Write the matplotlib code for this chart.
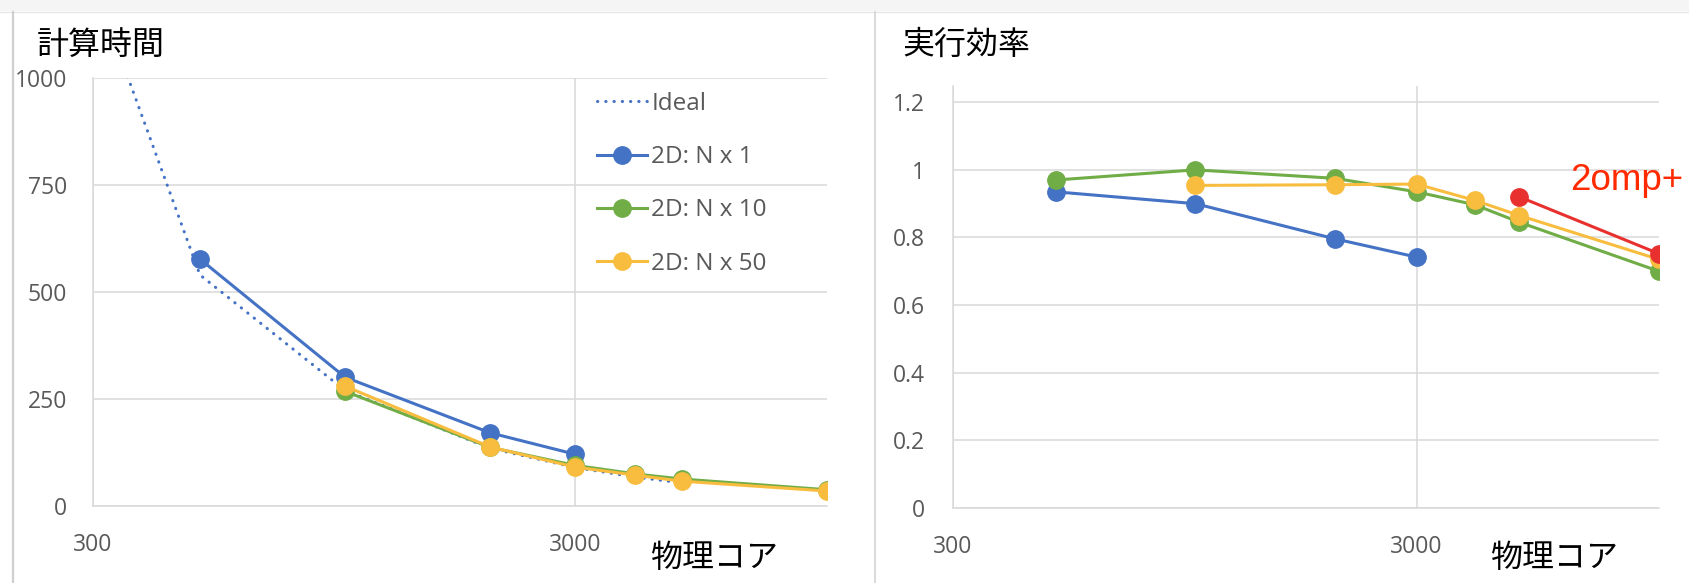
import matplotlib
matplotlib.use("Agg")
import matplotlib.pyplot as plt
from matplotlib.lines import Line2D
from matplotlib.patches import Rectangle
from matplotlib.ticker import NullLocator, FixedLocator, FuncFormatter
from matplotlib.transforms import Bbox

plt.rcParams["font.family"] = ["Open Sans", "Noto Sans CJK JP", "DejaVu Sans"]

# ---- data -------------------------------------------------------------
ideal_cores = [100, 500, 1000, 2000, 3000, 4000, 5000]
ideal_time = [2700, 540, 270, 135, 90, 67.5, 54]

n1_cores = [500, 1000, 2000, 3000]
n1_time = [577, 301, 171, 121]

n10_cores = [1000, 2000, 3000, 4000, 5000, 10000]
n10_time = [268, 137, 95, 75, 63, 38]

n50_cores = [1000, 2000, 3000, 4000, 5000, 10000]
n50_time = [280, 138, 91, 72, 58, 35]

eff_n1_cores = [500, 1000, 2000, 3000]
eff_n1 = [0.935, 0.90, 0.796, 0.742]

eff_n10_cores = [500, 1000, 2000, 3000, 4000, 5000, 10000]
eff_n10 = [0.97, 1.0, 0.975, 0.935, 0.897, 0.845, 0.70]

eff_n50_cores = [1000, 2000, 3000, 4000, 5000, 10000]
eff_n50 = [0.954, 0.956, 0.958, 0.91, 0.865, 0.735]

eff_omp_cores = [5000, 10000]
eff_omp = [0.92, 0.752]

time_yticks = [0, 250, 500, 750, 1000]
eff_yticks = [0, 0.2, 0.4, 0.6, 0.8, 1.0, 1.2]
x_ticks = [300, 3000]

labels = ["Ideal", "2D: N x 1", "2D: N x 10", "2D: N x 50"]

# ---- style ------------------------------------------------------------
BLUE = "#4472C4"
GREEN = "#70AD47"
GOLD = "#F8BD3F"
RED = "#E8312F"
GRID = "#d9d9d9"
TICK = "#595959"
W, H = 1690, 583

fig = plt.figure(figsize=(W / 100, H / 100), dpi=100)
fig.patch.set_facecolor("white")


def fig_box(x0, y0, x1, y1):
    """Pixel box (top-left origin) to figure-fraction rect."""
    return [x0 / W, 1 - y1 / H, (x1 - x0) / W, (y1 - y0) / H]


# panel frame
fig.add_artist(Rectangle((0, 1 - 11 / H), 1, 11 / H, transform=fig.transFigure,
                         facecolor="#f5f5f5", edgecolor="none", zorder=0))
fig.add_artist(Line2D([0, 1], [1 - 11.5 / H] * 2, transform=fig.transFigure,
                      color="#e6e6e6", lw=1.0))
fig.add_artist(Line2D([13.5 / W] * 2, [0, 1 - 12 / H], transform=fig.transFigure,
                      color="#cfcfcf", lw=1.6))
fig.add_artist(Line2D([875 / W] * 2, [0, 1 - 12 / H], transform=fig.transFigure,
                      color=GRID, lw=1.4))

line_kw = dict(lw=2.2, marker="o", markersize=12.5, markeredgewidth=1.0)
ideal_kw = dict(color=BLUE, lw=2.2, linestyle=(0, (0.1, 2.6)),
                dash_capstyle="round")


def style_axes(ax, yticks, fmt, xpad, ypad):
    ax.set_xscale("log")
    ax.set_xlim(300, 10000)
    ax.xaxis.set_major_locator(FixedLocator(x_ticks))
    ax.xaxis.set_minor_locator(NullLocator())
    ax.xaxis.set_major_formatter(FuncFormatter(lambda v, p: f"{v:g}"))
    ax.yaxis.set_major_locator(FixedLocator(yticks))
    ax.yaxis.set_major_formatter(FuncFormatter(fmt))
    ax.tick_params(length=0, labelsize=16.5, labelcolor=TICK)
    ax.tick_params(axis="x", pad=xpad)
    ax.tick_params(axis="y", pad=ypad)
    ax.grid(True, color=GRID, lw=1.1)
    ax.set_axisbelow(True)
    for s in ("top", "right"):
        ax.spines[s].set_visible(False)
    for s in ("left", "bottom"):
        ax.spines[s].set_color(GRID)
        ax.spines[s].set_linewidth(1.1)
    ax.patch.set_alpha(0)


# ---- left: computation time -------------------------------------------
ax1 = fig.add_axes(fig_box(93, 78, 827, 506))
ax1.plot(ideal_cores, ideal_time, **ideal_kw, label=labels[0])
ax1.plot(n1_cores, n1_time, color=BLUE, **line_kw, label=labels[1])
ax1.plot(n10_cores, n10_time, color=GREEN, **line_kw, label=labels[2])
ax1.plot(n50_cores, n50_time, color=GOLD, **line_kw, label=labels[3])
ax1.set_ylim(0, 1000)
style_axes(ax1, time_yticks, lambda v, p: f"{v:g}", 19.5, 18.5)

leg = ax1.legend(loc="upper left", bbox_to_anchor=(597 / W, 1 - 92 / H),
                 bbox_transform=fig.transFigure, frameon=False, fontsize=17.5,
                 borderpad=0, borderaxespad=0, handlelength=2.05,
                 handletextpad=0.18, labelspacing=1.2)
for t in leg.get_texts():
    t.set_color(TICK)

# the top y label is clipped by the panel edge
fig.canvas.draw()
clip = Bbox.from_extents(14, 0, W, H - 70)
for lab in ax1.get_yticklabels():
    lab.set_clip_box(clip)
    lab.set_clip_on(True)

fig.text(37 / W, 1 - 45 / H, "計算時間", fontsize=23, va="center", ha="left",
         family=["Noto Sans CJK JP"], color="black")
fig.text(650 / W, 1 - 558 / H, "物理コア", fontsize=23, va="center", ha="left",
         family=["Noto Sans CJK JP"], color="black")

# ---- right: parallel efficiency ---------------------------------------
ax2 = fig.add_axes(fig_box(953, 86, 1659, 508))
ax2.plot(eff_n1_cores, eff_n1, color=BLUE, **line_kw)
ax2.plot(eff_n10_cores, eff_n10, color=GREEN, **line_kw)
ax2.plot(eff_n50_cores, eff_n50, color=GOLD, **line_kw)
ax2.plot(eff_omp_cores, eff_omp, color=RED, **line_kw)
ax2.set_ylim(0, 1.248)
style_axes(ax2, eff_yticks, lambda v, p: f"{v:g}", 19.5, 20.5)

fig.text(902 / W, 1 - 45 / H, "実行効率", fontsize=23, va="center", ha="left",
         family=["Noto Sans CJK JP"], color="black")
fig.text(1490 / W, 1 - 558 / H, "物理コア", fontsize=23, va="center", ha="left",
         family=["Noto Sans CJK JP"], color="black")
fig.text(1570 / W, 1 - 181 / H, "2omp+", fontsize=26.5, va="center", ha="left",
         family=["Liberation Sans"], color="#FF2A00")

fig.savefig("out.png", dpi=100, facecolor=fig.get_facecolor())
